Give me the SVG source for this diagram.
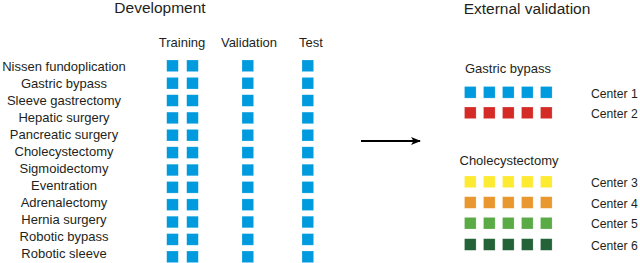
<svg xmlns="http://www.w3.org/2000/svg" width="640" height="263" viewBox="0 0 640 263">
<style>
text{font-family:"Liberation Sans",Arial,sans-serif;fill:#231f20;font-size:13px}
.h{font-size:15.5px}
.c{font-size:12.2px}
.l{text-anchor:middle}
.b{fill:#009bde}
.r{fill:#d42b27}
.y{fill:#fdea33}
.o{fill:#e8982f}
.g{fill:#5aaa46}
.d{fill:#246338}
rect{stroke-width:0.6;stroke-opacity:0.35;stroke:#fff}
</style>
<defs>
<rect id="s" width="11.6" height="11.6"/>
<g id="row"><use href="#s" x="166.7"/><use href="#s" x="186.7"/><use href="#s" x="242"/><use href="#s" x="302"/></g>
<g id="five"><use href="#s" x="464.5"/><use href="#s" x="483.5"/><use href="#s" x="502.5"/><use href="#s" x="521.5"/><use href="#s" x="540.5"/></g>
<marker id="ah" markerWidth="10" markerHeight="8" refX="9" refY="4" orient="auto" markerUnits="userSpaceOnUse"><path d="M0,0 L10,4 L0,8 L2.5,4 Z" fill="#000"/></marker>
</defs>
<g id="headers">
<text class="h l" x="160" y="13">Development</text>
<text class="l" x="182" y="47">Training</text>
<text class="l" x="249" y="47">Validation</text>
<text class="l" x="311" y="47">Test</text>
<text class="h l" x="527" y="14">External  validation</text>
</g>
<g id="development">
<g class="b">
<use href="#row" y="60"/><use href="#row" y="77.4"/><use href="#row" y="94.7"/><use href="#row" y="112.1"/>
<use href="#row" y="129.4"/><use href="#row" y="146.8"/><use href="#row" y="164.2"/><use href="#row" y="181.5"/>
<use href="#row" y="198.9"/><use href="#row" y="216.2"/><use href="#row" y="233.6"/><use href="#row" y="251"/>
</g>
<text class="l" x="64" y="71">Nissen fundoplication</text>
<text class="l" x="64" y="88">Gastric bypass</text>
<text class="l" x="64" y="105">Sleeve gastrectomy</text>
<text class="l" x="64" y="122">Hepatic surgery</text>
<text class="l" x="64" y="139">Pancreatic surgery</text>
<text class="l" x="64" y="156">Cholecystectomy</text>
<text class="l" x="64" y="173">Sigmoidectomy</text>
<text class="l" x="64" y="190">Eventration</text>
<text class="l" x="64" y="207">Adrenalectomy</text>
<text class="l" x="64" y="224">Hernia surgery</text>
<text class="l" x="64" y="241">Robotic bypass</text>
<text class="l" x="64" y="258">Robotic sleeve</text>
</g>
<g id="connectors">
<line x1="361" y1="141" x2="420" y2="141" stroke="#000" stroke-width="2" marker-end="url(#ah)"/>
</g>
<g id="gastric-bypass">
<text class="l" x="508" y="73">Gastric bypass</text>
<use href="#five" y="86.5" class="b"/>
<use href="#five" y="107" class="r"/>
<text class="c" x="591" y="97.5">Center 1</text>
<text class="c" x="591" y="118">Center 2</text>
</g>
<g id="cholecystectomy">
<text class="l" x="509" y="165">Cholecystectomy</text>
<use href="#five" y="176" class="y"/>
<use href="#five" y="196.7" class="o"/>
<use href="#five" y="217.4" class="g"/>
<use href="#five" y="238.7" class="d"/>
<text class="c" x="591" y="187">Center 3</text>
<text class="c" x="591" y="207.7">Center 4</text>
<text class="c" x="591" y="228.4">Center 5</text>
<text class="c" x="591" y="249.7">Center 6</text>
</g>
</svg>
